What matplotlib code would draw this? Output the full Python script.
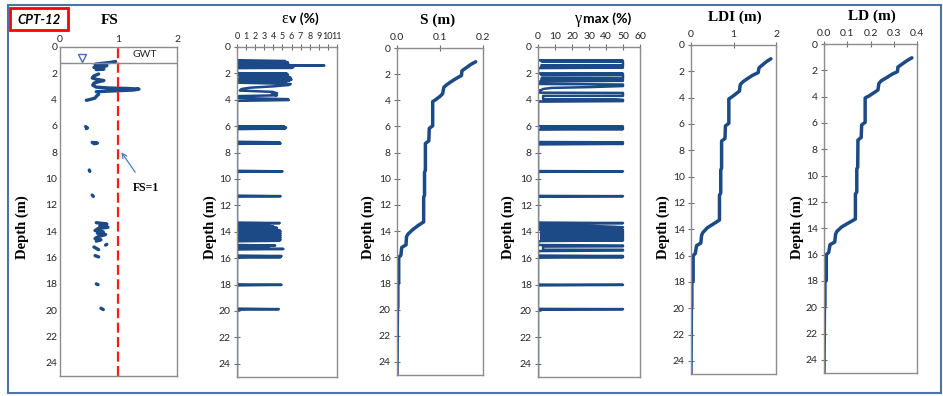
import matplotlib.pyplot as plt
from matplotlib.patches import Rectangle
import numpy as np

nan = np.nan
blau = '#1c4a86'

# --- FS (Sicherheitsfaktor), NaN = Lücke
fs_tiefe = [1.10, 1.18, 1.25, 1.32, 1.38, 1.42, 1.48, 1.55, 1.62, 1.68, 1.72, nan,
            2.05, 2.20, 2.35, 2.45, 2.55, 2.65, 2.75, 2.90, 3.05, 3.12, 3.15, 3.20, 3.27, 3.32, 3.36, 3.40, nan,
            3.60, 3.75, 3.88, 3.98, 4.05, nan,
            6.05, 6.15, 6.20, nan, 7.25, 7.30, 7.35, nan, 9.35, 9.45, nan, 11.25, 11.35, nan,
            13.35, 13.45, 13.60, 13.70, 13.80, 13.95, 14.05, 14.15, 14.25, 14.40, 14.55, 14.65, 14.75, nan,
            15.00, 15.05, nan, 15.20, 15.30, 15.40, nan, 15.85, 15.95, nan, 18.00, 18.06, nan, 19.85, 19.95]
fs_wert = [0.95, 0.85, 0.70, 0.60, 0.72, 0.80, 0.68, 0.58, 0.66, 0.75, 0.62, nan,
           0.66, 0.58, 0.55, 0.62, 0.75, 0.65, 0.58, 0.56, 0.62, 0.85, 1.15, 1.35, 1.25, 1.00, 0.80, 0.62, nan,
           0.66, 0.62, 0.60, 0.52, 0.45, nan,
           0.44, 0.47, 0.45, nan, 0.55, 0.64, 0.58, nan, 0.50, 0.51, nan, 0.55, 0.57, nan,
           0.62, 0.80, 0.68, 0.82, 0.65, 0.60, 0.74, 0.64, 0.78, 0.66, 0.60, 0.70, 0.62, nan,
           0.80, 0.78, nan, 0.58, 0.62, 0.66, nan, 0.60, 0.66, nan, 0.62, 0.65, nan, 0.70, 0.74]

# --- Volumendehnung ev (%)
ev_tiefe = [1.00, 1.06, 1.10, 1.12, 1.16, 1.20, 1.24, 1.28, 1.32, 1.36, 1.40, 1.44, 1.47, 1.50, 1.53, 1.56, 1.58, 1.60,
            1.98, 2.02, 2.05, 2.09, 2.13, 2.17, 2.21, 2.25, 2.29, 2.33, 2.37, 2.41, 2.44, 2.47, 2.50, 2.53, 2.56, 2.59, 2.62,
            2.70, 2.80, 2.88, 2.98, 3.08, 3.18, 3.30, 3.40, 3.50, 3.60, 3.66, 3.72, 3.86, 3.95, 4.02, 4.08,
            6.00, 6.02, 6.06, 6.10, 6.14, 6.18, 6.22,
            7.18, 7.22, 7.26, 7.30, 7.34, 9.38, 9.42, 9.46, 11.26, 11.30, 11.34, 13.30, 13.34, 13.38,
            13.50, 13.55, 13.60, 13.64, 13.70, 13.74,
            13.84, 13.88, 13.92, 13.96, 14.00, 14.04, 14.08, 14.12, 14.16, 14.20, 14.24, 14.28, 14.32, 14.36,
            14.40, 14.44, 14.48, 14.52, 14.56, 14.60, 14.64, 14.68, 14.72,
            15.00, 15.04, 15.08, 15.12, 15.16, 15.26, 15.30, 15.34,
            15.80, 15.84, 15.88, 15.92, 15.96, 17.98, 18.02, 18.06, 19.82, 19.86, 19.90, 25.0]
ev_wert = [0.0, 5.3, 5.2, 0.2, 5.6, 0.2, 5.5, 0.2, 5.7, 0.3, 9.6, 0.3, 5.8, 0.2, 6.2, 0.2, 6.0, 0.0,
           0.0, 5.5, 0.2, 5.6, 0.2, 5.4, 0.3, 5.7, 0.3, 5.9, 0.3, 5.6, 0.2, 6.0, 0.3, 5.8, 0.2, 5.5, 0.0,
           0.0, 5.9, 5.7, 4.0, 1.5, 0.5, 0.3, 3.9, 4.4, 3.8, 4.4, 0.2, 0.2, 5.6, 5.7, 0.0,
           0.0, 5.2, 0.2, 5.4, 0.2, 5.3, 0.0,
           0.0, 4.7, 0.2, 4.8, 0.0, 0.0, 5.0, 0.0, 0.0, 4.8, 0.0, 0.0, 4.7, 0.0,
           0.0, 3.5, 4.0, 0.2, 4.4, 0.0,
           0.0, 4.7, 0.2, 4.8, 0.2, 4.7, 0.2, 4.8, 0.2, 4.7, 0.2, 4.8, 0.2, 4.7,
           0.2, 4.8, 0.2, 4.7, 0.2, 4.8, 0.2, 4.7, 0.0,
           0.0, 4.2, 0.2, 3.5, 0.0, 0.0, 5.1, 0.0,
           0.0, 4.9, 0.2, 4.8, 0.0, 0.0, 4.9, 0.0, 0.0, 4.6, 0.0, 0.0]

# --- maximale Scherdehnung gamma max (%)
gam_tiefe = [1.00, 1.04, 1.08, 1.12, 1.38, 1.38, 1.44, 1.50, 1.56, 1.60,
             2.00, 2.02, 2.06, 2.10, 2.13, 2.14, 2.38, 2.38, 2.44, 2.50, 2.56, 2.62,
             2.80, 2.84, 2.96, 3.04, 3.10, 3.18, 3.26, 3.30,
             3.46, 3.48, 3.70, 3.70, 3.96, 3.96, 4.00, 4.10, 4.14,
             6.00, 6.02, 6.08, 6.14, 6.18, 6.22, 6.26,
             7.20, 7.22, 7.28, 7.34, 7.38, 9.40, 9.42, 9.46, 11.28, 11.30, 11.34, 13.30, 13.34, 13.38,
             13.52, 13.56, 13.62, 13.66, 13.70,
             13.84, 13.86, 13.90, 13.94, 13.98, 14.02, 14.06, 14.10, 14.14, 14.18, 14.22, 14.26, 14.30,
             14.34, 14.38, 14.42, 14.46, 14.50, 14.54, 14.58, 14.62, 14.66, 14.70, 14.74,
             15.00, 15.04, 15.10, 15.12, 15.36, 15.36, 15.42, 15.46,
             15.80, 15.84, 15.88, 15.92, 15.96, 18.00, 18.02, 18.06, 19.84, 19.86, 19.90, 25.0]
gam_wert = [0, 50, 2, 50, 50, 2, 50, 2, 50, 0,
            0, 50, 2, 50, 2, 50, 50, 2, 50, 2, 50, 0,
            0, 50, 50, 30, 8, 3, 2, 0,
            0, 50, 50, 3, 3, 46, 50, 50, 0,
            0, 50, 2, 50, 2, 50, 0,
            0, 50, 2, 50, 0, 0, 50, 0, 0, 50, 0, 0, 50, 0,
            0, 32, 45, 50, 0,
            0, 50, 2, 50, 2, 50, 2, 50, 2, 50, 2, 50, 2,
            50, 2, 50, 2, 50, 2, 50, 2, 50, 2, 0,
            0, 50, 50, 3, 3, 50, 50, 0,
            0, 50, 2, 50, 0, 0, 50, 0, 0, 50, 0, 0]

# --- Setzung S, LDI, LD (gemeinsame Tiefen)
kurve_tiefe = [1.05, 1.25, 1.65, 1.75, 2.10, 2.30, 2.55, 2.80, 3.00, 3.50, 3.70, 3.95, 4.10, 5.95, 6.15, 7.10, 7.30,
               9.35, 9.50, 11.25, 11.40, 13.30, 13.55, 13.90, 14.25, 14.45, 15.05, 15.25, 15.85, 16.00,
               17.95, 18.10, 19.85, 20.00, 25.00]
s_wert = [0.183, 0.172, 0.155, 0.151, 0.150, 0.139, 0.127, 0.116, 0.109, 0.106, 0.100, 0.090, 0.083, 0.083, 0.075,
          0.074, 0.066, 0.066, 0.064, 0.064, 0.062, 0.062, 0.050, 0.036, 0.025, 0.022, 0.021, 0.011, 0.009, 0.004,
          0.004, 0.002, 0.002, 0.001, 0.0]
ldi_wert = [1.88, 1.78, 1.63, 1.60, 1.58, 1.45, 1.33, 1.22, 1.16, 1.14, 1.06, 0.96, 0.89, 0.89, 0.81, 0.80, 0.72,
            0.72, 0.70, 0.70, 0.67, 0.67, 0.55, 0.38, 0.28, 0.25, 0.23, 0.13, 0.10, 0.05, 0.05, 0.02, 0.02, 0.01, 0.0]
ld_wert = [0.378, 0.358, 0.326, 0.318, 0.316, 0.292, 0.270, 0.246, 0.236, 0.232, 0.215, 0.193, 0.177, 0.177, 0.162,
           0.160, 0.146, 0.145, 0.141, 0.141, 0.135, 0.135, 0.110, 0.076, 0.055, 0.050, 0.046, 0.026, 0.020, 0.010,
           0.010, 0.004, 0.004, 0.002, 0.0]

tiefe_ticks = list(range(0, 25, 2))

W, H = 943, 396
fig = plt.figure(figsize=(9.43, 3.96), dpi=100)


def px_achse(x0, x1, y0, y1):
    # Pixel-Kasten -> Figure-Koordinaten
    return fig.add_axes([x0 / W, 1 - y1 / H, (x1 - x0) / W, (y1 - y0) / H])


def tiefen_achse(ax, xlim, xticks, xlabels=None, ticklen=5, xsize=7.5):
    ax.set_ylim(25, 0)
    ax.set_xlim(*xlim)
    ax.set_yticks(tiefe_ticks)
    ax.set_xticks(xticks)
    if xlabels is not None:
        ax.set_xticklabels(xlabels)
    ax.xaxis.tick_top()
    for sp in ax.spines.values():
        sp.set_color('#8c8c8c')
        sp.set_linewidth(1.0)
    ax.tick_params(direction='inout', length=ticklen, width=0.8, color='#707070',
                   labelsize=7.5, labelcolor='#262626', pad=2)
    ax.tick_params(axis='x', labelsize=xsize)
    for lab in ax.get_xticklabels() + ax.get_yticklabels():
        lab.set_family('Lato')


def tiefen_label(x):
    fig.text(x / W, 1 - 227 / H, 'Depth (m)', rotation=90, ha='center', va='center',
             family='Liberation Serif', fontweight='bold', fontsize=10.5)


def titel(x, text, y=20):
    fig.text(x / W, 1 - y / H, text, ha='center', va='center',
             family='Liberation Serif', fontweight='bold', fontsize=11)


# Rahmen und Kennung
fig.patches.append(Rectangle((8 / W, 1 - 393 / H), 933 / W, 388 / H, transform=fig.transFigure,
                             fill=False, edgecolor='#4f72a8', lw=1.5))
fig.patches.append(Rectangle((10 / W, 1 - 30 / H), 58 / W, 22 / H, transform=fig.transFigure,
                             fill=False, edgecolor='#ff0000', lw=2))
fig.text(39 / W, 1 - 19.5 / H, 'CPT-12', ha='center', va='center', family='Lato',
         fontweight='bold', style='italic', fontsize=9.5)

# FS
ax = px_achse(60, 177, 47, 376)
tiefen_achse(ax, (0, 2), [0, 1, 2], ticklen=0)
ax.plot(fs_wert, fs_tiefe, color=blau, lw=2.4, solid_capstyle='round')
ax.axvline(1, color='#ff1a1a', lw=1.6, ls=(0, (4.5, 2)))
ax.axhline(1.2, color='#8c8c8c', lw=1.0)
ax.plot([0.37], [0.8], marker='v', ms=6, mfc='white', mec='#4a6fa5', mew=1.0)
ax.text(1.45, 0.6, 'GWT', ha='center', va='center', fontsize=7.5, family='Lato', color='#262626')
ax.annotate('FS=1', xy=(1.05, 8.0), xytext=(1.47, 10.7), ha='center', va='center',
            family='Liberation Serif', fontweight='bold', fontsize=8.5,
            arrowprops=dict(arrowstyle='->', color='#4a7ebb', lw=0.9, shrinkA=6, shrinkB=0))
titel(110, 'FS')
tiefen_label(22)

# ev
ax = px_achse(237, 337, 47, 377)
tiefen_achse(ax, (0, 11), list(range(0, 12)), xsize=6.5)
ax.plot(ev_wert, ev_tiefe, color=blau, lw=1.8)
fig.text(288 / W, 1 - 19 / H, '\u03b5', ha='right', va='center', family='Liberation Serif', fontsize=11.5)
fig.text(289 / W, 1 - 19 / H, 'v (%)', ha='left', va='center', family='Lato', fontweight='bold', fontsize=10)
tiefen_label(210)

# S
ax = px_achse(397, 483, 48, 375)
tiefen_achse(ax, (0, 0.2), [0, 0.1, 0.2], ['0.0', '0.1', '0.2'])
ax.plot(s_wert, kurve_tiefe, color=blau, lw=2.5, solid_capstyle='round')
titel(438, 'S (m)')
tiefen_label(368)

# gamma max
ax = px_achse(538, 640, 47, 377)
tiefen_achse(ax, (0, 60), list(range(0, 61, 10)))
ax.plot(gam_wert, gam_tiefe, color=blau, lw=1.8)
fig.text(582 / W, 1 - 19 / H, '\u03b3', ha='right', va='center', family='Liberation Serif', fontsize=11.5)
fig.text(583 / W, 1 - 19 / H, 'max (%)', ha='left', va='center', family='Lato', fontweight='bold', fontsize=10)
tiefen_label(508)

# LDI
ax = px_achse(691, 776, 45, 374)
tiefen_achse(ax, (0, 2), [0, 1, 2])
ax.plot(ldi_wert, kurve_tiefe, color=blau, lw=2.5, solid_capstyle='round')
titel(735, 'LDI (m)', y=17)
tiefen_label(663)

# LD
ax = px_achse(824, 917, 44, 373)
tiefen_achse(ax, (0, 0.4), [0, 0.1, 0.2, 0.3, 0.4], ['0.0', '0.1', '0.2', '0.3', '0.4'])
ax.plot(ld_wert, kurve_tiefe, color=blau, lw=2.5, solid_capstyle='round')
titel(872, 'LD (m)', y=16)
tiefen_label(797)

fig.savefig('out.png', dpi=100)
